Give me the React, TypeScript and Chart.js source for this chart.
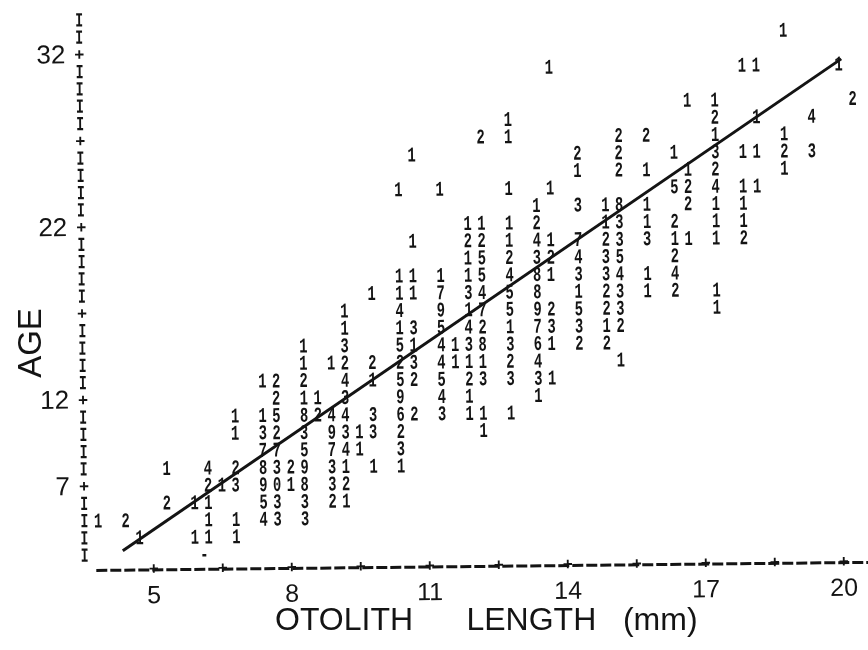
import React, { useEffect, useRef } from "react";
import { Chart, registerables } from "chart.js";

Chart.register(...registerables);

type Cell = [number, number | string];

const age03: Cell[] = [[6.1, "-"]];
const age04: Cell[] = [[4.7, 1], [5.9, 1], [6.2, 1], [6.8, 1]];
const age05: Cell[] = [[3.8, 1], [4.4, 2], [6.2, 1], [6.8, 1], [7.4, 4], [7.7, 3], [8.3, 3]];
const age06: Cell[] = [[5.3, 2], [5.9, 1], [6.2, 1], [7.4, 5], [7.7, 3], [8.3, 3], [8.9, 2], [9.2, 1]];
const age07: Cell[] = [[6.2, 2], [6.5, 1], [6.8, 3], [7.4, 9], [7.7, 0], [8.0, 1], [8.3, 8], [8.9, 3], [9.2, 2]];
const age08: Cell[] = [[5.3, 1], [6.2, 4], [6.8, 2], [7.4, 8], [7.7, 3], [8.0, 2], [8.3, 9], [8.9, 3], [9.2, 1], [9.8, 1], [10.4, 1]];
const age09: Cell[] = [[7.4, 7], [7.7, 7], [8.3, 5], [8.9, 7], [9.2, 4], [9.5, 1], [10.4, 3]];
const age10: Cell[] = [[6.8, 1], [7.4, 3], [7.7, 2], [8.3, 3], [8.9, 9], [9.2, 3], [9.5, 1], [9.8, 3], [10.4, 2], [12.2, 1]];
const age11: Cell[] = [[6.8, 1], [7.4, 1], [7.7, 5], [8.3, 8], [8.6, 2], [8.9, 4], [9.2, 4], [9.8, 3], [10.4, 6], [10.7, 2], [11.3, 3], [11.9, 1], [12.2, 1], [12.8, 1]];
const age12: Cell[] = [[7.7, 2], [8.3, 1], [8.6, 1], [9.2, 3], [10.4, 9], [11.3, 4], [11.9, 1], [13.4, 1]];
const age13: Cell[] = [[7.4, 1], [7.7, 2], [8.3, 2], [9.2, 4], [9.8, 1], [10.4, 5], [10.7, 2], [11.3, 5], [11.9, 2], [12.2, 3], [12.8, 3], [13.4, 3], [13.7, 1]];
const age14: Cell[] = [[8.3, 1], [8.9, 1], [9.2, 2], [9.8, 2], [10.4, 2], [10.7, 3], [11.3, 4], [11.6, 1], [11.9, 1], [12.2, 1], [12.8, 2], [13.4, 4], [15.2, 1]];
const age15: Cell[] = [[8.3, 1], [9.2, 3], [10.4, 5], [10.7, 1], [11.3, 4], [11.6, 1], [11.9, 3], [12.2, 8], [12.8, 3], [13.4, 6], [13.7, 1], [14.3, 2], [14.9, 2]];
const age16: Cell[] = [[9.2, 1], [10.4, 1], [10.7, 3], [11.3, 5], [11.9, 4], [12.2, 2], [12.8, 1], [13.4, 7], [13.7, 3], [14.3, 3], [14.9, 1], [15.2, 2]];
const age17: Cell[] = [[9.2, 1], [10.4, 4], [11.3, 9], [11.9, 1], [12.2, 7], [12.8, 5], [13.4, 9], [13.7, 2], [14.3, 5], [14.9, 2], [15.2, 3], [17.3, 1]];
const age18: Cell[] = [[9.8, 1], [10.4, 1], [10.7, 1], [11.3, 7], [11.9, 3], [12.2, 4], [12.8, 5], [13.4, 8], [14.3, 1], [14.9, 2], [15.2, 3], [15.8, 1], [16.4, 2], [17.3, 1]];
const age19: Cell[] = [[10.4, 1], [10.7, 1], [11.3, 1], [11.9, 1], [12.2, 5], [12.8, 4], [13.4, 8], [13.7, 1], [14.3, 3], [14.9, 3], [15.2, 4], [15.8, 1], [16.4, 4]];
const age20: Cell[] = [[11.9, 1], [12.2, 5], [12.8, 2], [13.4, 3], [13.7, 2], [14.3, 4], [14.9, 3], [15.2, 5], [16.4, 2]];
const age21: Cell[] = [[10.7, 1], [11.9, 2], [12.2, 2], [12.8, 1], [13.4, 4], [13.7, 1], [14.3, 7], [14.9, 2], [15.2, 3], [15.8, 3], [16.4, 1], [16.7, 1], [17.3, 1], [17.9, 2]];
const age22: Cell[] = [[11.9, 1], [12.2, 1], [12.8, 1], [13.4, 2], [14.9, 1], [15.2, 3], [15.8, 1], [16.4, 2], [17.3, 1], [17.9, 1]];
const age23: Cell[] = [[13.4, 1], [14.3, 3], [14.9, 1], [15.2, 8], [15.8, 1], [16.7, 2], [17.3, 1], [17.9, 1]];
const age24: Cell[] = [[10.4, 1], [11.3, 1], [12.8, 1], [13.7, 1], [16.4, 5], [16.7, 2], [17.3, 4], [17.9, 1], [18.2, 1]];
const age25: Cell[] = [[14.3, 1], [15.2, 2], [15.8, 1], [16.7, 1], [17.3, 2], [18.8, 1]];
const age26: Cell[] = [[10.7, 1], [14.3, 2], [15.2, 2], [16.4, 1], [17.3, 3], [17.9, 1], [18.2, 1], [18.8, 2], [19.4, 3]];
const age27: Cell[] = [[12.2, 2], [12.8, 1], [15.2, 2], [15.8, 2], [17.3, 1], [18.8, 1]];
const age28: Cell[] = [[12.8, 1], [17.3, 2], [18.2, 1], [19.4, 4]];
const age29: Cell[] = [[16.7, 1], [17.3, 1], [20.3, 2]];
const age31: Cell[] = [[13.7, 1], [17.9, 1], [18.2, 1], [20.0, 1]];
const age33: Cell[] = [[18.8, 1]];

const ageRows: [number, Cell[]][] = [
  [3, age03], [4, age04], [5, age05], [6, age06], [7, age07], [8, age08], [9, age09], [10, age10],
  [11, age11], [12, age12], [13, age13], [14, age14], [15, age15], [16, age16], [17, age17], [18, age18],
  [19, age19], [20, age20], [21, age21], [22, age22], [23, age23], [24, age24], [25, age25], [26, age26],
  [27, age27], [28, age28], [29, age29], [31, age31], [33, age33],
];

const fitLine = [{ x: 4.33, y: 3.32 }, { x: 20.06, y: 31.37 }];
const xLabels = [5, 8, 11, 14, 17, 20];
const yLabels = [7, 12, 22, 32];
const xAxisPluses = [5, 6.5, 8, 9.5, 11, 12.5, 14, 15.5, 17, 18.5, 20];
const yAxisPluses = [7, 12, 17, 22, 27, 32];
const yAxisBars = [3, 4, 5, 6, 8, 9, 10, 11, 13, 14, 15, 16, 18, 19, 20, 21, 23, 24, 25, 26, 28, 29, 30, 31, 33, 34];
const yAxisAt = 3.5;
const xAxisAt = 2.2;
const xAxisSpan = [3.75, 20.6];
const xTitle = "OTOLITH      LENGTH   (mm)";
const yTitle = "AGE";

const INK = "#141414";
const TILT = 0.0105;

const paperTilt = {
  id: "paperTilt",
  beforeDraw(chart: any) {
    const c = chart.ctx;
    c.save();
    c.translate(460, 300);
    c.rotate(-TILT);
    c.translate(-460, -300);
  },
  afterDraw(chart: any) {
    chart.ctx.restore();
  },
};

const glyphs = {
  id: "glyphs",
  afterDatasetsDraw(chart: any) {
    const c = chart.ctx;
    const x = chart.scales.x;
    const y = chart.scales.y;
    const squeezed = (t: string, px: number, py: number) => {
      c.save();
      c.translate(px, py);
      c.scale(0.66, 1);
      c.fillText(t, 0, 0);
      c.restore();
    };
    c.save();
    c.fillStyle = INK;
    c.textAlign = "center";
    c.textBaseline = "middle";
    c.font = "bold 21px 'Liberation Mono'";
    for (const [age, cells] of ageRows) {
      for (const [mm, d] of cells) {
        squeezed(String(d), x.getPixelForValue(mm), y.getPixelForValue(age));
      }
    }
    c.font = "bold 20px 'Liberation Mono'";
    for (const a of yAxisBars) squeezed("I", x.getPixelForValue(yAxisAt), y.getPixelForValue(a));
    c.font = "bold 17px 'Liberation Mono'";
    for (const a of yAxisPluses) c.fillText("+", x.getPixelForValue(yAxisAt), y.getPixelForValue(a));
    for (const m of xAxisPluses) c.fillText("+", x.getPixelForValue(m), y.getPixelForValue(xAxisAt));
    c.restore();
  },
};

const captions = {
  id: "captions",
  afterDraw(chart: any) {
    const c = chart.ctx;
    c.save();
    c.fillStyle = INK;
    c.textBaseline = "middle";
    c.textAlign = "left";
    c.font = "32px 'Liberation Sans'";
    c.fillText(xTitle, 275, 621);
    c.translate(32, 343);
    c.rotate(-Math.PI / 2);
    c.textAlign = "center";
    c.font = "33px 'Liberation Sans'";
    c.fillText(yTitle, 0, 0);
    c.restore();
  },
};

export default function App() {
  const ref = useRef<HTMLCanvasElement>(null);
  useEffect(() => {
    const chart = new Chart(ref.current as HTMLCanvasElement, {
      type: "scatter",
      data: {
        datasets: [
          {
            label: "Regression",
            data: fitLine,
            showLine: true,
            borderColor: INK,
            borderWidth: 3,
            pointRadius: 0,
            clip: false,
          },
          {
            label: "Length axis",
            data: [{ x: xAxisSpan[0], y: xAxisAt }, { x: xAxisSpan[1], y: xAxisAt }],
            showLine: true,
            borderColor: INK,
            borderWidth: 3,
            borderDash: [11, 3],
            pointRadius: 0,
            clip: false,
          },
        ],
      } as any,
      options: {
        animation: false,
        responsive: false,
        layout: { padding: 0 },
        plugins: { legend: { display: false }, tooltip: { enabled: false } },
        scales: {
          x: {
            type: "linear",
            min: 3.283,
            max: 20.587,
            afterBuildTicks: (s: any) => { s.ticks = xLabels.map((v) => ({ value: v })); },
            afterFit: (s: any) => { s.height = 78; s.paddingLeft = 0; s.paddingRight = 0; },
            grid: { display: false, tickLength: 0 },
            border: { display: false },
            ticks: { color: INK, padding: 6, maxRotation: 0, autoSkip: false, font: { family: "'Liberation Sans'", size: 25 } },
          },
          y: {
            type: "linear",
            min: 1.89,
            max: 35.011,
            afterBuildTicks: (s: any) => { s.ticks = yLabels.map((v) => ({ value: v })); },
            afterFit: (s: any) => { s.width = 72; s.paddingTop = 0; s.paddingBottom = 0; },
            grid: { display: false, tickLength: 0 },
            border: { display: false },
            ticks: { color: INK, padding: 4, autoSkip: false, font: { family: "'Liberation Sans'", size: 26 } },
          },
        },
      } as any,
      plugins: [paperTilt, glyphs, captions],
    });
    return () => chart.destroy();
  }, []);
  return (
    <div style={{ position: "fixed", left: 0, top: 0, width: 868, height: 650, background: "#fff" }}>
      <canvas ref={ref} width={868} height={650} style={{ display: "block" }} />
    </div>
  );
}
